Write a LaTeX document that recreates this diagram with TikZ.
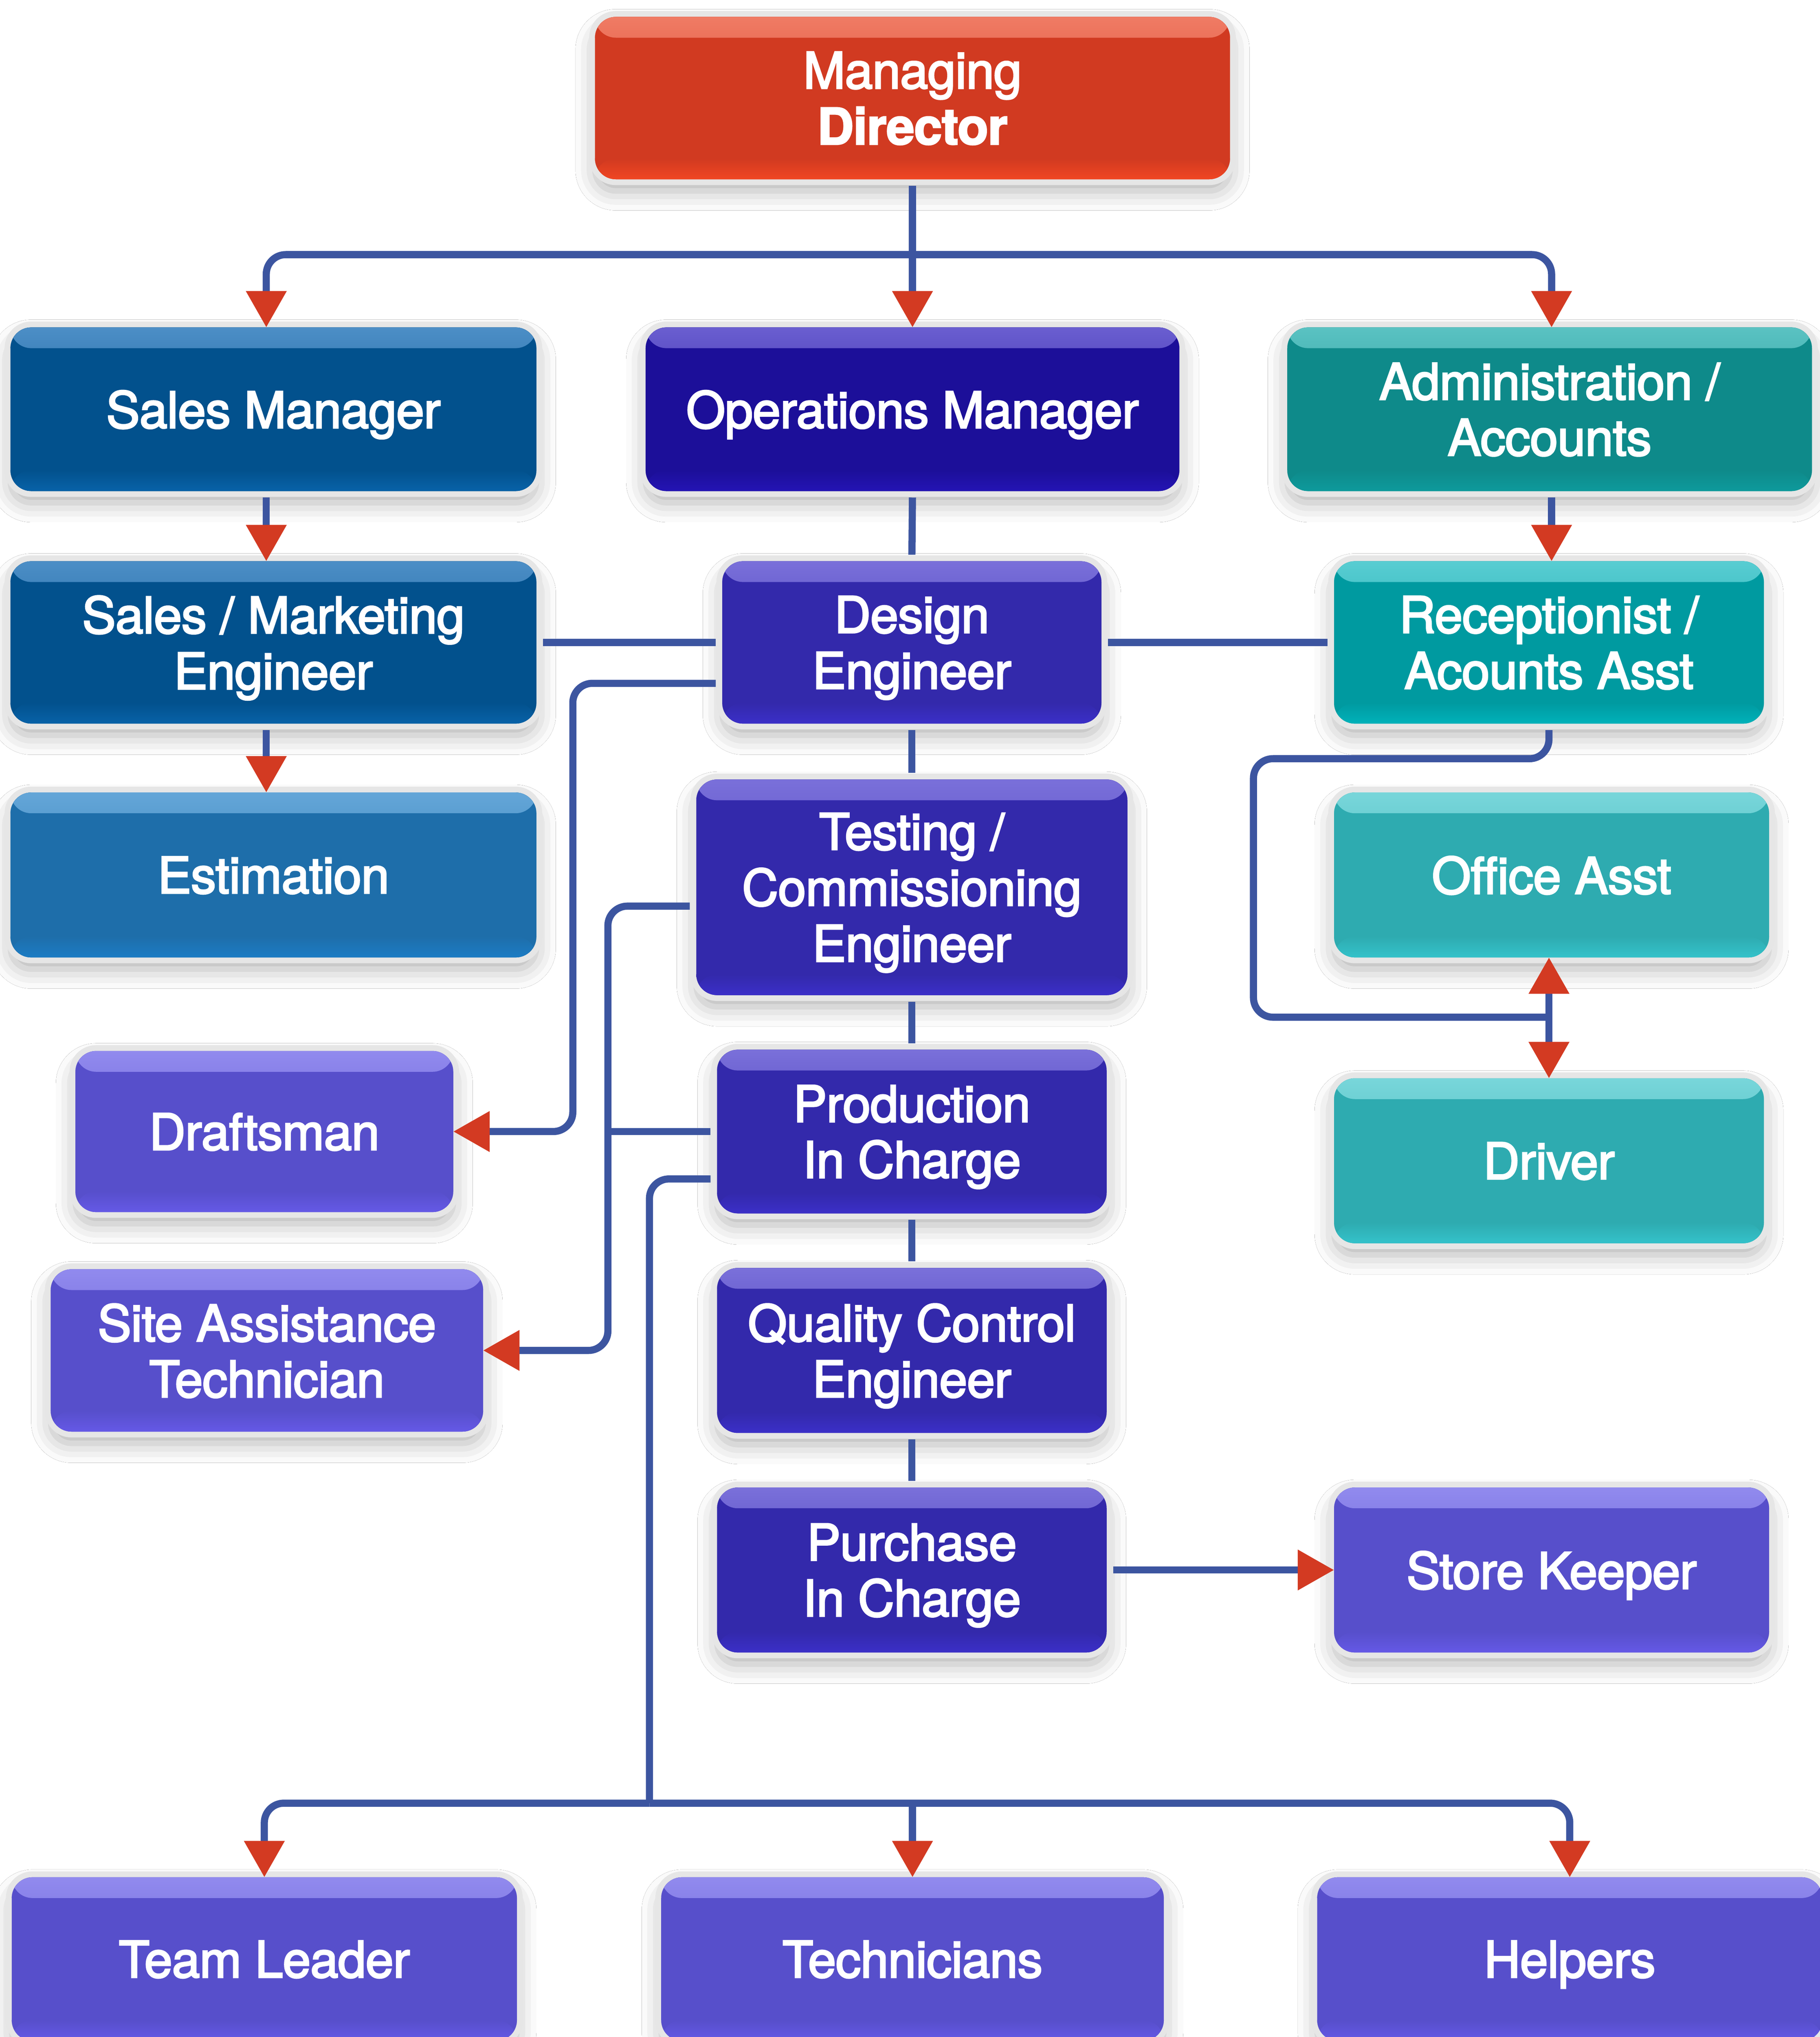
\documentclass[tikz,border=0pt]{standalone}
\usepackage{fontspec}
\usetikzlibrary{arrows.meta,shadows.blur,calc}
\newfontfamily\boxfont{TeX Gyre Heros}[FakeBold=3,LetterSpace=-0.6]
\definecolor{lineblue}{HTML}{3C55A0}
\definecolor{arrowred}{HTML}{D33A22}
\definecolor{bordergray}{HTML}{E6E6E6}
\definecolor{mdred}{HTML}{D13A21}
\definecolor{mdtop}{HTML}{F07B64}
\definecolor{mdbot}{HTML}{F04622}
\definecolor{sblue}{HTML}{02518D}
\definecolor{sbluetop}{HTML}{4C8EC6}
\definecolor{sbluebot}{HTML}{0862A8}
\definecolor{eblue}{HTML}{1E6EAA}
\definecolor{ebluetop}{HTML}{64A6D8}
\definecolor{ebluebot}{HTML}{1C7CC4}
\definecolor{opsind}{HTML}{1C0F99}
\definecolor{opstop}{HTML}{6A5ED0}
\definecolor{opsbot}{HTML}{2414B4}
\definecolor{engind}{HTML}{3329AB}
\definecolor{engtop}{HTML}{7A70DA}
\definecolor{engbot}{HTML}{3B2FC8}
\definecolor{purp}{HTML}{574FCB}
\definecolor{purptop}{HTML}{918AEE}
\definecolor{purpbot}{HTML}{6559E6}
\definecolor{ateal}{HTML}{0E8A8A}
\definecolor{atealtop}{HTML}{5AC2C2}
\definecolor{atealbot}{HTML}{0E9A9C}
\definecolor{rteal}{HTML}{009AA0}
\definecolor{rtealtop}{HTML}{58CDD2}
\definecolor{rtealbot}{HTML}{00B2BA}
\definecolor{oteal}{HTML}{2EABB0}
\definecolor{otealtop}{HTML}{78D6DA}
\definecolor{otealbot}{HTML}{34C2CA}
\begin{document}
\begin{tikzpicture}[x=0.02cm,y=-0.02cm,
  box/.style n args={3}{rounded corners=0.32cm, fill=#1, inner sep=0pt, outer sep=0pt,
    text=white, align=center, text depth=0pt, font=\boxfont\fontsize{22}{24.5}\selectfont,
    blur shadow={shadow xshift=0pt, shadow yshift=-0.18cm, shadow blur radius=0.3cm, shadow opacity=30},
    preaction={draw=bordergray, line width=0.18cm},
    path picture={
      \fill[top color=#2, bottom color=#1] (path picture bounding box.north west) rectangle ([yshift=-0.32cm]path picture bounding box.north east);
      \fill[top color=#1, bottom color=#3] ([yshift=0.32cm]path picture bounding box.south west) rectangle (path picture bounding box.south east);
    }},
  ln/.style={draw=lineblue, line width=0.11cm, shorten <=0.1cm, shorten >=0.1cm},
  rnd/.style={rounded corners=0.3cm},
  sh/.style={shorten <=0.1cm},
  arr/.style={draw=lineblue, line width=0.11cm, -{Triangle[length=0.56cm,width=0.6cm,color=arrowred]}}
]
\useasboundingbox (0,0) rectangle (1401,1568);
\fill[white] (0,0) rectangle (1401,1568);

% nodes
\node[box={mdred}{mdtop}{mdbot}, minimum width=9.78cm, minimum height=2.5cm] (md) at (702.5,75.5) {Managing\\\bfseries Director};
\node[box={sblue}{sbluetop}{sbluebot}, minimum width=8.1cm, minimum height=2.52cm] (sm) at (210.5,315) {Sales Manager};
\node[box={opsind}{opstop}{opsbot}, minimum width=8.22cm, minimum height=2.52cm] (om) at (702.5,315) {Operations Manager};
\node[box={ateal}{atealtop}{atealbot}, minimum width=8.08cm, minimum height=2.52cm] (aa) at (1193,315) {Administration /\\Accounts};
\node[box={sblue}{sbluetop}{sbluebot}, minimum width=8.1cm, minimum height=2.5cm] (sme) at (210.5,494.5) {Sales / Marketing\\Engineer};
\node[box={engind}{engtop}{engbot}, minimum width=5.84cm, minimum height=2.5cm] (de) at (702,494.5) {Design\\Engineer};
\node[box={rteal}{rtealtop}{rtealbot}, minimum width=6.62cm, minimum height=2.5cm] (ra) at (1192.5,494.5) {Receptionist /\\Acounts Asst};
\node[box={eblue}{ebluetop}{ebluebot}, minimum width=8.1cm, minimum height=2.54cm] (est) at (210.5,673.5) {Estimation};
\node[box={engind}{engtop}{engbot}, minimum width=6.64cm, minimum height=3.32cm] (tc) at (702,683) {Testing /\\Commissioning\\Engineer};
\node[box={oteal}{otealtop}{otealbot}, minimum width=6.7cm, minimum height=2.54cm] (oa) at (1194.5,673.5) {Office Asst};
\node[box={purp}{purptop}{purpbot}, minimum width=5.82cm, minimum height=2.48cm] (dr) at (203.5,871) {Draftsman};
\node[box={engind}{engtop}{engbot}, minimum width=6cm, minimum height=2.52cm] (pic) at (702,871) {Production\\In Charge};
\node[box={oteal}{otealtop}{otealbot}, minimum width=6.62cm, minimum height=2.54cm] (drv) at (1192.5,893.5) {Driver};
\node[box={purp}{purptop}{purpbot}, minimum width=6.66cm, minimum height=2.5cm] (sat) at (205.5,1039.5) {Site Assistance\\Technician};
\node[box={engind}{engtop}{engbot}, minimum width=6cm, minimum height=2.54cm] (qc) at (702,1039.5) {Quality Control\\Engineer};
\node[box={engind}{engtop}{engbot}, minimum width=6cm, minimum height=2.54cm] (pur) at (702,1208.5) {Purchase\\In Charge};
\node[box={purp}{purptop}{purpbot}, minimum width=6.7cm, minimum height=2.54cm] (sk) at (1194.5,1208.5) {Store Keeper};
\node[box={purp}{purptop}{purpbot}, minimum width=7.78cm, minimum height=2.52cm] (tl) at (203.5,1508) {Team Leader};
\node[box={purp}{purptop}{purpbot}, minimum width=7.74cm, minimum height=2.52cm] (tech) at (702.5,1508) {Technicians};
\node[box={purp}{purptop}{purpbot}, minimum width=7.78cm, minimum height=2.52cm] (help) at (1208.5,1508) {Helpers};

% junction coordinates
\coordinate (tj) at (702.5,196);
\coordinate (v1) at (441,0);
\coordinate (v2) at (468,0);
\coordinate (bj) at (500,1388);
\path (ra.south) ++(0,226) coordinate (jr);

% top branch
\draw[arr, sh] (md.south) -- (om.north);
\draw[arr, rnd] (tj) -| ([xshift=-0.11cm]sm.north);
\draw[arr, rnd] (tj) -| ([xshift=0.03cm]aa.north);

% sales column
\draw[arr, sh] ([xshift=-0.11cm]sm.south) -- ([xshift=-0.11cm]sme.north);
\draw[arr, sh] ([xshift=-0.11cm]sme.south) -- ([xshift=-0.11cm]est.north);

% admin column
\draw[arr, sh] ([xshift=0.03cm]aa.south) -- ([xshift=0.03cm]aa.south |- ra.north);
\draw[ln, rnd, shorten >=0pt] (ra.south) |- (965,584) |- (jr);
\draw[arr] (jr) -- (jr |- oa.south);
\draw[arr] (jr) -- (jr |- drv.north);

% operations column
\draw[ln] (om.south) -- (de.north);
\draw[ln] (de.south) -- (de.south |- tc.north);
\draw[ln] (tc.south) -- (tc.south |- pic.north);
\draw[ln] (pic.south) -- (qc.north);
\draw[ln] (qc.south) -- (pur.north);

% horizontal links
\draw[ln] (sme.east) -- (de.west);
\draw[ln] (de.east) -- (ra.west);
\draw[arr, sh] (pur.east) -- (sk.west);

% left branches
\draw[arr, rnd, sh] ([yshift=-0.63cm]de.west) -| (v1 |- dr.east) -- (dr.east);
\draw[arr, rnd, sh] ([yshift=-0.29cm]tc.west) -| (v2 |- sat.east) -- (sat.east);
\draw[ln, shorten >=0pt] (pic.west) -- (pic.west -| v2);

% bottom branch
\draw[ln, rnd, shorten >=0pt] ([yshift=-0.73cm]pic.west) -| (bj);
\draw[arr, rnd] (bj) -| (tl.north);
\draw[arr] (bj -| tech.north) -- (tech.north);
\draw[arr, rnd] (bj) -| (help.north);
\end{tikzpicture}
\end{document}
